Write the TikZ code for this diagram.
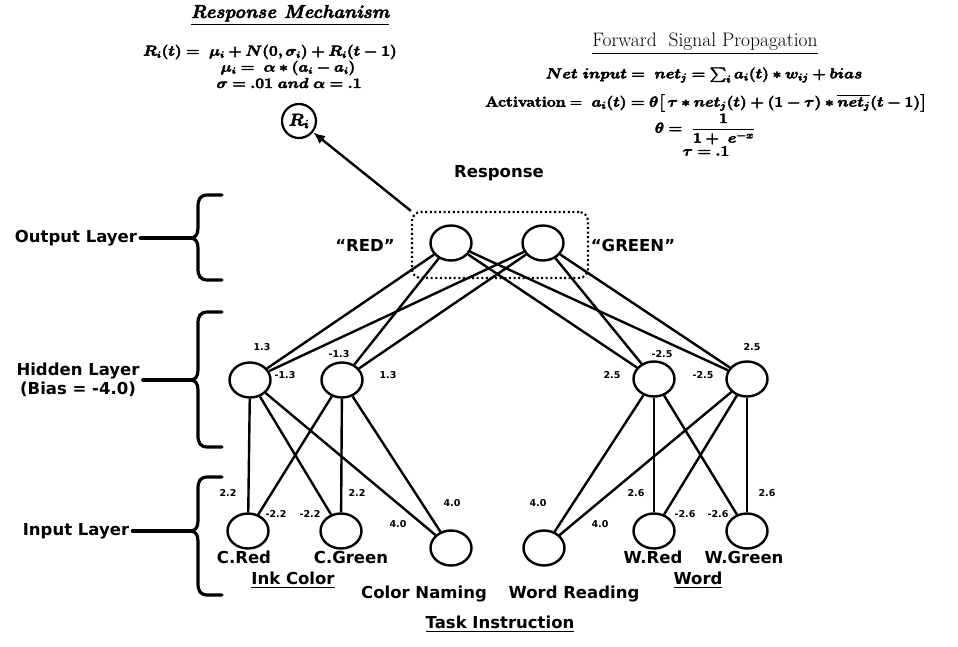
\documentclass[tikz,border=0pt]{standalone}
\usepackage{amsmath}
\usepackage{bm}
\usepackage{graphicx}
\usepackage{fontspec}
\setsansfont{DejaVu Sans}
\usetikzlibrary{arrows.meta,shapes.geometric}
\newcommand\heavy[1]{\special{pdf:literal direct 2 Tr 0.45 w}#1\special{pdf:literal direct 0 Tr}}
\newcommand\wide[1]{\scalebox{1.09}[1]{\heavy{#1}}}
\tikzset{
    stroop diagram/.style = {x=1pt, y=-1pt, >={Latex[length=12pt, width=10pt]}},
    edge/.style     = {line width=2.4pt},
    unit/.style     = {draw, ellipse, line width=2.4pt, fill=white,
                       minimum width=41pt, minimum height=35pt, inner sep=0pt},
    resp/.style     = {draw, circle, line width=2.2pt, minimum size=34pt,
                       inner sep=0pt, font=\fontsize{17}{19}\selectfont},
    pool/.style     = {draw, line width=2.2pt, dash pattern=on 2pt off 2.6pt,
                       rounded corners=9pt, minimum width=176pt,
                       minimum height=66pt},
    wt/.style       = {font=\sffamily\bfseries\fontsize{9.5}{11}\selectfont,
                       inner sep=1pt},
    lbl/.style      = {font=\sffamily\bfseries\fontsize{16.5}{19.5}\selectfont,
                       inner sep=3pt},
    brace/.style    = {line width=3.2pt, line cap=round, line join=round},
    eq/.style       = {font=\fontsize{13.5}{16}\selectfont, inner sep=0pt},
    big eq/.style   = {font=\fontsize{14.5}{17}\selectfont, inner sep=0pt},
    eq title/.style = {font=\fontsize{18.5}{21}\selectfont, inner sep=0pt}
}
\begin{document}
\begin{tikzpicture}[stroop diagram]
\useasboundingbox (0,0) rectangle (958,647);

% Output, hidden and input units
\node[unit] (red)    at (451,243) {};
\node[unit] (green)  at (543,243) {};
\node[unit] (h1)     at (250,380) {};
\node[unit] (h2)     at (342,380) {};
\node[unit] (h3)     at (654,379) {};
\node[unit] (h4)     at (747,379) {};
\node[unit] (cred)   at (248,531) {};
\node[unit] (cgreen) at (341,531) {};
\node[unit] (cname)  at (451,548) {};
\node[unit] (wread)  at (544,548) {};
\node[unit] (wred)   at (654,531) {};
\node[unit] (wgreen) at (747,531) {};

% Connections between layers
\foreach \a/\b in {h1/red, h1/green, h2/red, h2/green,
                   h3/red, h3/green, h4/red, h4/green,
                   h1/cred, h1/cgreen, h1/cname, h2/cred, h2/cgreen, h2/cname,
                   h3/wred, h3/wgreen, h3/wread, h4/wred, h4/wgreen, h4/wread}
    \draw[edge] (\a) -- (\b);

% Weights
\foreach \x/\y/\t [count=\i] in {262/347/1.3, 285/375/-1.3, 339/354/-1.3, 388/375/1.3,
                                 612/375/2.5, 662/354/-2.5, 703/375/-2.5, 752/347/2.5,
                                 228/493/2.2, 276/514/-2.2, 310/514/-2.2, 357/493/2.2,
                                 398/524/4.0, 452/503/4.0, 538/503/4.0, 600/524/4.0,
                                 636/493/2.6, 685/514/-2.6, 718/514/-2.6, 767/493/2.6}
    \node[wt] (w\i) at (\x,\y) {\t};

% Response pool and accumulator
\node[pool] (respbox) at (500,245) {};
\node[lbl] (resplbl) at (499,173) {Response};
\node[lbl] (redlbl) at (365,245) {“RED”};
\node[lbl] (greenlbl) at (633,245) {“GREEN”};
\node[resp] (ri) at (299,121) {\heavy{$\bm{R_i}$}};
\draw[->, edge] (respbox.north west) -- (ri);

% Unit names
\node[lbl] (credlbl)   at (244,557) {C.Red};
\node[lbl] (cgreenlbl) at (351,557) {C.Green};
\node[lbl] (wredlbl)   at (653,557) {W.Red};
\node[lbl] (wgreenlbl) at (744,557) {W.Green};
\node[lbl] (inklbl)    at (293,580) {\underline{Ink Color}};
\node[lbl] (wordlbl)   at (698,580) {\underline{Word}};
\node[lbl] (cnamelbl)  at (424,594) {Color Naming};
\node[lbl] (wreadlbl)  at (574,594) {Word Reading};
\node[lbl] (tasklbl)   at (500,624) {\underline{Task Instruction}};

% Layer braces
\foreach \t/\m/\b/\n in {195/238/280/obr, 312/380/447/hbr, 477/531/595/ibr} {
    \draw[brace] (222,\t) -- (208,\t) .. controls (200,\t) and (198,\t+4) .. (198,\t+12)
        -- (198,\m-10) .. controls (198,\m-3) and (195,\m) .. (190,\m)
        .. controls (195,\m) and (198,\m+3) .. (198,\m+10)
        -- (198,\b-12) .. controls (198,\b-4) and (200,\b) .. (208,\b) -- (222,\b);
    \coordinate (\n) at (190,\m);
}
\node[lbl] (outlbl) at (76,238) {Output Layer};
\node[lbl, align=center] (hidlbl) at (78,380) {Hidden Layer\\(Bias = -4.0)};
\node[lbl] (inlbl) at (76,531) {Input Layer};
\draw[brace] (outlbl.east) -- (obr);
\draw[brace] (hidlbl.east) -- (hbr);
\draw[brace] (inlbl.east) -- (ibr);

% Response mechanism
\node[eq title] (rmtitle) at (290,15)
    {\heavy{\textbf{\textit{\underline{Response Mechanism}}}}};
\node[eq] (req1) at (270,52) {\wide{$\bm{R_i(t) =\ \mu_i + N(0,\sigma_i) + R_i(t-1)}$}};
\node[eq] (req2) at (288,68) {\wide{$\bm{\mu_i =\ \alpha * (a_i - a_i)}$}};
\node[eq] (req3) at (289,83) {\wide{$\bm{\sigma = .01\ and\ \alpha = .1}$}};

% Forward signal propagation
\node[eq title, font=\fontsize{19.5}{22}\selectfont] (fsptitle) at (705,44)
    {\underline{Forward\ \ Signal Propagation}};
\node[big eq] (feq1) at (704,75)
    {\wide{$\bm{Net\ input =\ net_j =} \textstyle\sum\nolimits_{\bm{i}} \bm{a_i(t) * w_{ij} + bias}$}};
\node[big eq] (feq2) at (706,103)
    {\wide{$\textbf{Activation} =\ \bm{a_i(t) = \theta}\big[\,\bm{\tau * net_j(t) + (1-\tau) *} \overline{\bm{net_j}}\bm{(t-1)}\big]$}};
\node[big eq] (feq3) at (705,129) {\wide{$\bm{\theta =}\ \dfrac{\bm{1}}{\bm{1+\ e^{-x}}}$}};
\node[big eq] (feq4) at (706,151) {\wide{$\bm{\tau = .1}$}};

\end{tikzpicture}
\end{document}
